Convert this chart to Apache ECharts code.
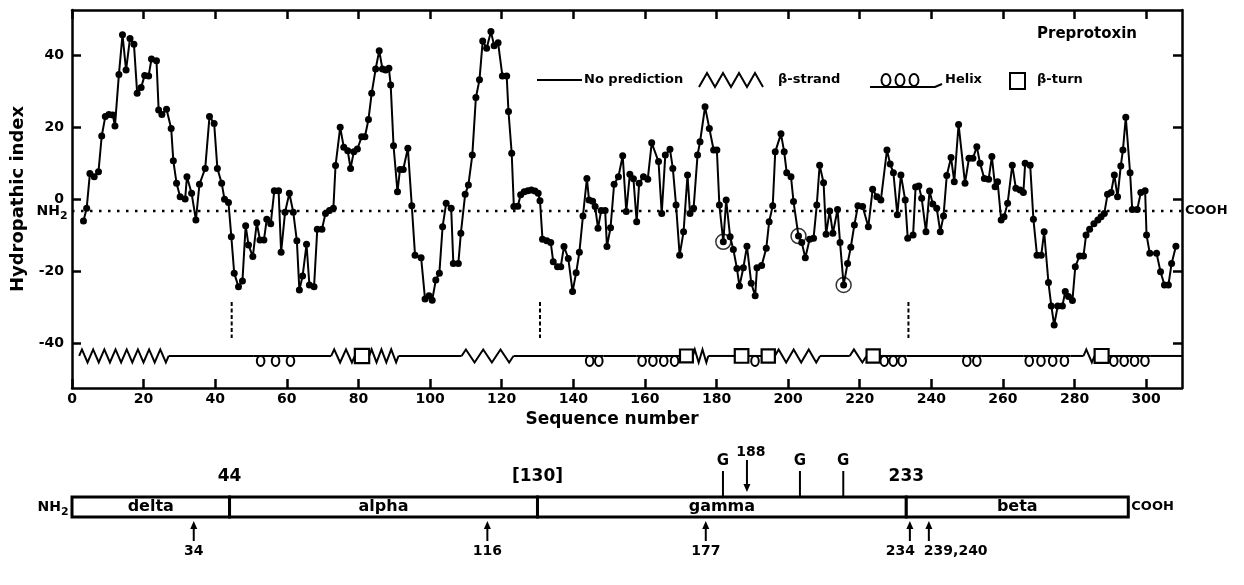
<!DOCTYPE html>
<html><head><meta charset="utf-8">
<script src="https://cdn.jsdelivr.net/npm/echarts@6/dist/echarts.min.js"></script>
<style>html,body{margin:0;padding:0;background:#fff}#c{width:1244px;height:585px}</style>
</head><body><div id="c"></div>
<script>
// ---- data ----
const seqPositions = [3.2,4.1,5.0,6.2,7.4,8.3,9.3,10.3,11.4,12.0,
13.1,14.1,15.1,16.2,17.3,18.2,19.3,20.3,21.4,22.2,
23.6,24.2,25.1,26.4,27.7,28.3,29.2,30.2,31.6,32.1,
33.4,34.6,35.6,37.2,38.4,39.7,40.6,41.8,42.6,43.7,
44.5,45.3,46.5,47.6,48.5,49.3,50.5,51.6,52.5,53.6,
54.4,55.5,56.5,57.7,58.4,59.5,60.7,61.8,62.8,63.5,
64.4,65.5,66.3,67.6,68.5,69.8,70.8,71.9,73.0,73.6,
74.9,75.9,77.0,77.8,78.7,79.7,80.9,81.8,82.8,83.7,
84.8,85.8,86.7,87.6,88.5,89.0,89.8,90.9,91.6,92.5,
93.8,94.9,95.8,97.5,98.6,99.7,100.6,101.6,102.6,103.5,
104.5,105.9,106.5,107.9,108.6,109.8,110.7,111.8,112.8,113.8,
114.7,115.8,117.0,117.9,119.0,120.2,121.4,121.9,122.8,123.4,
124.5,125.3,126.3,127.3,128.3,129.3,130.2,130.7,131.4,132.6,
133.7,134.4,135.6,136.5,137.4,138.6,139.8,140.8,141.7,142.7,
143.8,144.4,145.4,146.1,146.9,147.8,148.9,149.4,150.4,151.4,
152.6,153.8,154.8,155.8,156.8,157.7,158.4,159.6,160.8,161.9,
163.8,164.7,165.7,167.0,167.8,168.7,169.7,170.8,171.9,172.6,
173.6,174.7,175.4,176.8,178.0,179.2,180.1,180.8,181.9,182.7,
183.8,184.7,185.7,186.4,187.5,188.5,189.7,190.8,191.3,192.6,
193.9,194.7,195.7,196.4,198.0,198.9,199.6,200.8,201.5,202.9,
203.8,204.8,206.0,207.1,208.0,208.8,209.9,210.6,211.6,212.5,
213.8,214.5,215.5,216.6,217.5,218.5,219.5,220.8,222.4,223.6,
224.8,225.9,227.6,228.5,229.4,230.5,231.5,232.7,233.4,234.9,
235.6,236.5,237.3,238.5,239.5,240.4,241.5,242.5,243.4,244.3,
245.5,246.4,247.6,249.4,250.5,251.6,252.7,253.6,254.8,256.0,
256.9,257.8,258.5,259.5,260.3,261.3,262.6,263.6,264.8,265.7,
266.2,267.6,268.5,269.5,270.7,271.5,272.7,273.5,274.3,275.3,
276.6,277.4,278.3,279.4,280.2,281.4,282.5,283.2,284.2,285.4,
286.5,287.4,288.3,289.2,290.2,291.1,292.0,292.9,293.5,294.3,
295.5,296.1,297.5,298.5,299.7,300.1,301.0,302.9,304.0,305.1,
306.2,307.1,308.3];
const hydroValues = [-6.1,-2.6,7.1,6.2,7.6,17.5,22.9,23.5,23.3,20.3,
34.6,45.6,35.8,44.6,43.0,29.4,31.0,34.3,34.2,38.9,
38.4,24.7,23.5,24.9,19.6,10.6,4.4,0.6,0.0,6.2,
1.6,-5.8,4.1,8.5,22.9,21.0,8.5,4.4,-0.1,-1.0,
-10.5,-20.6,-24.4,-22.8,-7.4,-12.8,-16.0,-6.6,-11.4,-11.4,
-5.6,-6.9,2.3,2.3,-14.8,-3.7,1.6,-3.7,-11.6,-25.3,
-21.4,-12.6,-23.9,-24.4,-8.4,-8.4,-4.0,-3.2,-2.6,9.3,
19.9,14.4,13.4,8.5,13.1,13.9,17.3,17.3,22.1,29.4,
36.1,41.2,36.1,35.8,36.3,31.7,14.8,2.0,8.2,8.2,
14.1,-1.9,-15.6,-16.3,-27.8,-26.9,-28.1,-22.5,-20.6,-7.7,
-1.2,-2.6,-17.9,-17.9,-9.5,1.3,3.9,12.2,28.2,33.1,
43.9,41.9,46.5,42.6,43.4,34.2,34.2,24.3,12.7,-2.1,
-2.0,1.2,2.0,2.3,2.5,2.2,1.6,-0.5,-11.2,-11.6,
-12.1,-17.4,-18.8,-18.8,-13.2,-16.5,-25.7,-20.5,-14.8,-4.7,
5.7,-0.3,-0.6,-2.1,-8.1,-3.2,-3.2,-13.2,-8.0,4.1,
6.2,12.0,-3.5,6.9,5.6,-6.3,4.4,6.2,5.5,15.6,
10.4,-4.0,12.2,13.8,8.5,-1.7,-15.6,-9.1,6.7,-4.0,
-2.6,12.2,15.9,25.6,19.6,13.6,13.6,-1.7,-11.9,-0.3,
-10.5,-14.0,-19.3,-24.2,-19.1,-13.1,-23.4,-26.9,-19.1,-18.5,
-13.7,-6.3,-1.9,13.1,18.1,13.1,7.3,6.2,-0.7,-10.3,
-12.1,-16.3,-11.2,-10.9,-1.7,9.4,4.5,-9.8,-3.3,-9.5,
-2.9,-12.1,-23.9,-17.9,-13.4,-7.2,-1.9,-2.1,-7.7,2.7,
0.6,-0.3,13.6,9.7,7.3,-4.4,6.7,-0.3,-10.9,-10.0,
3.3,3.6,0.2,-9.1,2.2,-1.4,-2.6,-9.1,-4.7,6.5,
11.5,4.8,20.7,4.4,11.3,11.3,14.5,9.9,5.7,5.5,
11.8,3.4,4.8,-5.8,-4.9,-1.2,9.4,3.0,2.5,1.8,
9.9,9.4,-5.6,-15.6,-15.6,-9.1,-23.2,-29.7,-35.0,-29.7,
-29.7,-25.7,-27.1,-28.2,-18.8,-15.8,-15.8,-10.0,-8.4,-6.9,
-5.8,-4.9,-4.0,1.3,1.8,6.7,0.6,9.2,13.6,22.7,
7.3,-2.9,-2.9,1.8,2.3,-10.0,-15.1,-15.1,-20.2,-23.9,
-23.9,-17.9,-13.1];
const xTicks = [0,20,40,60,80,100,120,140,160,180,200,220,240,260,280,300];
const yTicks = [-40,-20,0,20,40];
const meanLevel = -3.3;                 // dotted NH2 ... COOH line
const circledSeq = [181.9, 202.9, 215.5];
const cleavageSeq = [44.6, 130.7, 233.6];
const cleavageTop = -28.6, cleavageBottom = -38.6;
const trackLevel = -43.6;
// secondary structure: [start, end, kind, repeats]; kind 0 none, 1 strand, 2 helix, 3 turn
const structSegments = [
 [2,27,1,8],[27,50.6,0,0],[50.6,63.1,2,3],[63.1,72.4,0,0],[72.4,79,1,2],[79,83,3,1],
 [83,91.2,1,3],[91.2,108.8,0,0],[108.8,123.3,1,3],[123.3,143.3,0,0],[143.3,148.4,2,2],
 [148.4,157.7,0,0],[157.7,169.8,2,4],[169.8,173.4,3,1],[173.4,177.7,1,2],[177.7,185.1,0,0],
 [185.1,188.9,3,1],[188.9,192.6,2,1],[192.6,196.3,3,1],[196.3,208.9,1,3],[208.9,217.2,0,0],
 [217.2,221.9,1,1],[221.9,225.6,3,1],[225.6,233.1,2,3],[233.1,248.5,0,0],[248.5,254.1,2,2],
 [254.1,265.7,0,0],[265.7,278.8,2,4],[278.8,282.5,0,0],[282.5,285.6,1,1],[285.6,289.5,3,1],
 [289.5,301.1,2,4],[301.1,310,0,0]
];
// lower chain map
const domainNames = ['delta','alpha','gamma','beta'];
const domainBounds = [0, 44, 130, 233, 295];
const boundaryLabels = ['44','[130]','233'];
const glycoSites = [181.8, 203.3, 215.4];
const topArrowSites = [188.5];
const topArrowLabels = ['188'];
const bottomArrowSites = [34, 116, 177, 234, 239.3];
const bottomArrowLabels = ['34','116','177','234','239,240'];

// ---- rendering ----
const FONT = '"DejaVu Sans", sans-serif';
const BLACK = '#000';
const hydroData = seqPositions.map((s, i) => [s, hydroValues[i]]);
const circledData = circledSeq.map(s => [s, hydroValues[seqPositions.indexOf(s)]]);
const domainData = domainNames.map((n, i) => [domainBounds[i], domainBounds[i + 1], i]);

function txt(text, x, y, size, align, valign, weight) {
  return {type: 'text', style: {text: text, x: x, y: y, fill: BLACK,
    font: (weight || 'bold') + ' ' + size + 'px ' + FONT,
    align: align, verticalAlign: valign, textAlign: align, textVerticalAlign: valign}};
}
function nh2(xRight, y) {
  return [txt('NH', xRight, y, 14, 'right', 'middle'), txt('2', xRight, y + 5, 11, 'left', 'middle')];
}

function renderStructure(params, api) {
  const s = api.value(0), e = api.value(1), kind = api.value(2), n = api.value(3);
  const a = api.coord([s, trackLevel]), b = api.coord([e, trackLevel]);
  const y = a[1], x0 = a[0], x1 = b[0];
  const st = {stroke: BLACK, lineWidth: 2, fill: 'none'};
  const ch = [];
  if (kind === 1) {
    const w = (x1 - x0) / n, amp = 6.5, pts = [[x0, y]];
    for (let i = 0; i < n; i++) { pts.push([x0 + w * (i + 0.25), y - amp]); pts.push([x0 + w * (i + 0.75), y + amp]); }
    pts.push([x1, y]);
    ch.push({type: 'polyline', shape: {points: pts}, style: st});
  } else if (kind === 3) {
    const side = x1 - x0;
    ch.push({type: 'rect', shape: {x: x0, y: y - side / 2, width: side, height: side}, style: {stroke: BLACK, lineWidth: 2.2, fill: '#fff'}});
  } else {
    ch.push({type: 'polyline', shape: {points: [[x0, y], [x1, y]]}, style: st});
    if (kind === 2) {
      const w = (x1 - x0) / n;
      for (let i = 0; i < n; i++) ch.push({type: 'ellipse', shape: {cx: x0 + w * (i + 0.5), cy: y + 5, rx: 3.8, ry: 5}, style: st});
    }
  }
  return {type: 'group', children: ch};
}
function renderCleavage(params, api) {
  const a = api.coord([api.value(0), cleavageTop]), b = api.coord([api.value(0), cleavageBottom]);
  return {type: 'line', shape: {x1: a[0], y1: a[1], x2: b[0], y2: b[1]}, style: {stroke: BLACK, lineWidth: 2, lineDash: [4, 2.5]}};
}
function renderMean(params, api) {
  const cs = params.coordSys;
  const y = api.coord([0, api.value(1)])[1];
  return {type: 'group', children: [
    {type: 'line', shape: {x1: cs.x, y1: y, x2: cs.x + cs.width, y2: y}, style: {stroke: BLACK, lineWidth: 2.5, lineDash: [2.5, 6.5]}},
    ...nh2(cs.x - 12, y),
    txt('COOH', cs.x + cs.width + 3, y, 13, 'left', 'middle')
  ]};
}
function renderDomain(params, api) {
  const s = api.value(0), e = api.value(1), i = api.value(2);
  const tl = api.coord([s, 1]), br = api.coord([e, 0]);
  const midY = (tl[1] + br[1]) / 2;
  const ch = [
    {type: 'rect', shape: {x: tl[0], y: tl[1], width: br[0] - tl[0], height: br[1] - tl[1]}, style: {fill: '#fff', stroke: BLACK, lineWidth: 3}},
    txt(domainNames[i], (tl[0] + br[0]) / 2, midY, 16, 'center', 'middle')
  ];
  if (i === 0) ch.push(...nh2(tl[0] - 11, midY));
  if (i === domainNames.length - 1) ch.push(txt('COOH', br[0] + 3, midY, 13, 'left', 'middle'));
  return {type: 'group', children: ch};
}
function renderBoundary(params, api) {
  const p = api.coord([api.value(0), 1]);
  return txt(boundaryLabels[params.dataIndex], p[0], p[1] - 12, 17, 'center', 'bottom');
}
function renderGlyco(params, api) {
  const p = api.coord([api.value(0), 1]);
  return {type: 'group', children: [
    {type: 'line', shape: {x1: p[0], y1: p[1], x2: p[0], y2: p[1] - 26}, style: {stroke: BLACK, lineWidth: 2}},
    txt('G', p[0], p[1] - 28, 15, 'center', 'bottom')
  ]};
}
function renderTopArrow(params, api) {
  const p = api.coord([api.value(0), 1]);
  const tip = p[1] - 5, tail = p[1] - 37;
  return {type: 'group', children: [
    {type: 'line', shape: {x1: p[0], y1: tail, x2: p[0], y2: tip - 6}, style: {stroke: BLACK, lineWidth: 2}},
    {type: 'polygon', shape: {points: [[p[0] - 3.5, tip - 8], [p[0] + 3.5, tip - 8], [p[0], tip]]}, style: {fill: BLACK}},
    txt(topArrowLabels[params.dataIndex], p[0] + 4, tail - 1, 14, 'center', 'bottom')
  ]};
}
function renderBottomArrow(params, api) {
  const i = params.dataIndex, x = api.value(0);
  const p = api.coord([x, 0]);
  const tip = p[1] + 4, tail = p[1] + 24;
  const prev = bottomArrowSites[i - 1], next = bottomArrowSites[i + 1];
  let align = 'center', lx = p[0];
  if (next !== undefined && next - x < 10) { align = 'right'; lx = p[0] + 5; }
  else if (prev !== undefined && x - prev < 10) { align = 'left'; lx = p[0] - 5; }
  return {type: 'group', children: [
    {type: 'line', shape: {x1: p[0], y1: tip + 6, x2: p[0], y2: tail}, style: {stroke: BLACK, lineWidth: 2}},
    {type: 'polygon', shape: {points: [[p[0] - 3.5, tip + 8], [p[0] + 3.5, tip + 8], [p[0], tip]]}, style: {fill: BLACK}},
    txt(bottomArrowLabels[i], lx, tail + 3, 14, align, 'top')
  ]};
}

const axisLineStyle = {onZero: false, lineStyle: {color: BLACK, width: 2.5}};
const tickStyle = {color: BLACK, width: 2.5};
const labelStyle = {color: BLACK, fontSize: 14, fontWeight: 'bold', fontFamily: FONT};

// legend glyphs
const zig = [];
for (let i = 0; i < 4; i++) { zig.push([699 + i * 16, 87]); zig.push([707 + i * 16, 73]); }
zig.push([763, 87]);
function gtext(text, x, y, size) {
  return {type: 'text', x: x, y: y, style: {text: text, fill: BLACK, font: 'bold ' + size + 'px ' + FONT,
    align: 'left', verticalAlign: 'middle', textAlign: 'left', textVerticalAlign: 'middle'}};
}

const option = {
  animation: false,
  backgroundColor: '#fff',
  textStyle: {fontFamily: FONT, color: BLACK},
  grid: [
    {left: 72, right: 62, top: 10, height: 378},
    {left: 72, right: 62, top: 497, height: 20}
  ],
  xAxis: [
    {gridIndex: 0, type: 'value', min: 0, max: 310, position: 'bottom', axisLine: axisLineStyle,
     axisTick: {inside: true, length: 9, customValues: xTicks, lineStyle: tickStyle},
     axisLabel: Object.assign({customValues: xTicks, margin: 4}, labelStyle),
     splitLine: {show: false},
     name: 'Sequence number', nameLocation: 'middle', nameGap: 17,
     nameTextStyle: {fontSize: 17, fontWeight: 'bold', fontFamily: FONT, color: BLACK, padding: [0, 30, 0, 0]}},
    {gridIndex: 0, type: 'value', min: 0, max: 310, position: 'top', axisLine: axisLineStyle,
     axisTick: {inside: true, length: 9, customValues: xTicks, lineStyle: tickStyle},
     axisLabel: {show: false}, splitLine: {show: false}},
    {gridIndex: 1, type: 'value', min: 0, max: 310, show: false}
  ],
  yAxis: [
    {gridIndex: 0, type: 'value', min: -52.5, max: 52.5, position: 'left', axisLine: axisLineStyle,
     axisTick: {inside: true, length: 9, customValues: yTicks, lineStyle: tickStyle},
     axisLabel: Object.assign({customValues: yTicks, margin: 8}, labelStyle),
     splitLine: {show: false},
     name: 'Hydropathic index', nameLocation: 'middle', nameGap: 40, nameRotate: 90,
     nameTextStyle: {fontSize: 18, fontWeight: 'bold', fontFamily: FONT, color: BLACK}},
    {gridIndex: 0, type: 'value', min: -52.5, max: 52.5, position: 'right', axisLine: axisLineStyle,
     axisTick: {inside: true, length: 9, customValues: yTicks, lineStyle: tickStyle},
     axisLabel: {show: false}, splitLine: {show: false}},
    {gridIndex: 1, type: 'value', min: 0, max: 1, show: false}
  ],
  series: [
    {type: 'custom', name: 'mean', xAxisIndex: 0, yAxisIndex: 0, data: [[0, meanLevel]], renderItem: renderMean, silent: true, z: 1},
    {type: 'custom', name: 'structure', xAxisIndex: 0, yAxisIndex: 0, data: structSegments, renderItem: renderStructure, silent: true, z: 2},
    {type: 'custom', name: 'cleavage', xAxisIndex: 0, yAxisIndex: 0, data: cleavageSeq.map(s => [s, cleavageTop]), renderItem: renderCleavage, silent: true, z: 2},
    {type: 'line', name: 'Hydropathic index', xAxisIndex: 0, yAxisIndex: 0, data: hydroData,
     symbol: 'circle', symbolSize: 7, showAllSymbol: true,
     itemStyle: {color: BLACK}, lineStyle: {color: BLACK, width: 2}, silent: true, z: 3},
    {type: 'scatter', name: 'circled', xAxisIndex: 0, yAxisIndex: 0, data: circledData,
     symbol: 'circle', symbolSize: 15, itemStyle: {color: 'rgba(0,0,0,0)', borderColor: BLACK, borderWidth: 1.5}, silent: true, z: 4},
    {type: 'custom', name: 'domains', xAxisIndex: 2, yAxisIndex: 2, data: domainData, renderItem: renderDomain, silent: true},
    {type: 'custom', name: 'boundaries', xAxisIndex: 2, yAxisIndex: 2, data: domainBounds.slice(1, 4).map(b => [b, 1]), renderItem: renderBoundary, silent: true},
    {type: 'custom', name: 'glyco', xAxisIndex: 2, yAxisIndex: 2, data: glycoSites.map(g => [g, 1]), renderItem: renderGlyco, silent: true},
    {type: 'custom', name: 'topArrows', xAxisIndex: 2, yAxisIndex: 2, data: topArrowSites.map(g => [g, 1]), renderItem: renderTopArrow, silent: true},
    {type: 'custom', name: 'bottomArrows', xAxisIndex: 2, yAxisIndex: 2, data: bottomArrowSites.map(g => [g, 0]), renderItem: renderBottomArrow, silent: true}
  ],
  graphic: [
    {type: 'line', shape: {x1: 537, y1: 80, x2: 582, y2: 80}, style: {stroke: BLACK, lineWidth: 2}},
    gtext('No prediction', 584, 80, 13),
    {type: 'polyline', shape: {points: zig}, style: {stroke: BLACK, lineWidth: 2, fill: 'none'}},
    gtext('\u03b2-strand', 778, 80, 13),
    {type: 'polyline', shape: {points: [[870, 87], [935, 87], [942, 84]]}, style: {stroke: BLACK, lineWidth: 2, fill: 'none'}},
    {type: 'ellipse', shape: {cx: 886, cy: 80, rx: 4.5, ry: 6}, style: {stroke: BLACK, lineWidth: 2, fill: 'none'}},
    {type: 'ellipse', shape: {cx: 900, cy: 80, rx: 4.5, ry: 6}, style: {stroke: BLACK, lineWidth: 2, fill: 'none'}},
    {type: 'ellipse', shape: {cx: 914, cy: 80, rx: 4.5, ry: 6}, style: {stroke: BLACK, lineWidth: 2, fill: 'none'}},
    gtext('Helix', 945, 80, 13),
    {type: 'rect', shape: {x: 1010, y: 73, width: 15, height: 16}, style: {stroke: BLACK, lineWidth: 2, fill: '#fff'}},
    gtext('\u03b2-turn', 1037, 80, 13),
    gtext('Preprotoxin', 1037, 34, 15)
  ]
};
const chart = echarts.init(document.getElementById('c'), null, {renderer: 'canvas', width: 1244, height: 585});
chart.setOption(option);
</script>
</body></html>
